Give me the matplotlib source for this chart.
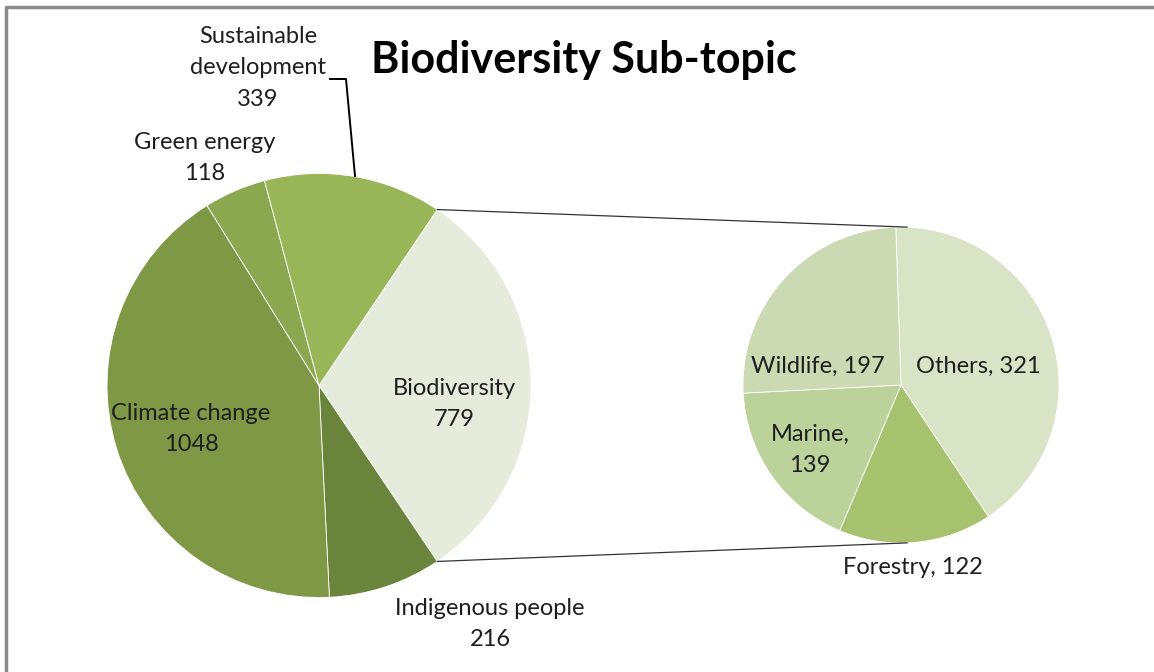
import numpy as np
import matplotlib.pyplot as plt

# Dane wykresu
glowne_nazwy = ["Biodiversity", "Indigenous people", "Climate change", "Green energy", "Sustainable\ndevelopment"]
glowne_wartosci = [779, 216, 1048, 118, 339]
glowne_kolory = ["#E5ECDC", "#6B843C", "#7F9846", "#8BA74F", "#98B658"]

pod_nazwy = ["Others", "Forestry", "Marine", "Wildlife"]
pod_wartosci = [321, 122, 139, 197]
pod_kolory = ["#D9E4C7", "#A6C26F", "#BBD29B", "#CBDAB2"]

W, H = 1154, 672
plt.rcParams['font.family'] = ['Lato', 'DejaVu Sans']

fig = plt.figure(figsize=(W / 100, H / 100), dpi=100)
ax = fig.add_axes([0, 0, 1, 1])

# Geometria (piksele, y od dołu)
c1 = (319, H - 385.5)
r1 = 212
c2 = (901, H - 385)
r2 = 158

suma = sum(glowne_wartosci)
kat_bio = glowne_wartosci[0] / suma * 360
start1 = kat_bio / 2

ax.pie(glowne_wartosci, colors=glowne_kolory, center=c1, radius=r1,
       startangle=start1, counterclock=False, frame=True,
       wedgeprops=dict(edgecolor='white', linewidth=0.6))

start2 = 91.9
ax.pie(pod_wartosci, colors=pod_kolory, center=c2, radius=r2,
       startangle=start2, counterclock=False, frame=True,
       wedgeprops=dict(edgecolor='white', linewidth=0.6))
ax.set_xlim(0, W)
ax.set_ylim(0, H)
ax.set_aspect('equal')
ax.axis('off')

# Linie łączące
for znak in (1, -1):
    a = np.radians(znak * start1)
    b = np.radians(znak * 87.8)
    x0, y0 = c1[0] + r1 * np.cos(a), c1[1] + r1 * np.sin(a)
    x1, y1 = c2[0] + r2 * np.cos(b), c2[1] + r2 * np.sin(b)
    ax.plot([x0, x1], [y0, y1], color='#333333', lw=0.9)

# Etykiety
kolor_txt = '#1e1e1e'
fs = 17
etykiety = [
    ("Sustainable\ndevelopment\n339", 258, 68),
    ("Green energy\n118", 205, 158),
    ("Climate change\n1048", 191, 429),
    ("Biodiversity\n779", 454, 404),
    ("Indigenous people\n216", 490, 624),
    ("Wildlife, 197", 818, 366),
    ("Others, 321", 978, 366),
    ("Marine,\n139", 810, 450),
    ("Forestry, 122", 913, 568),
]
for tekst, x, y in etykiety:
    ax.text(x, H - y, tekst, ha='center', va='center', fontsize=fs,
            color=kolor_txt, linespacing=1.6)

# Linia odniesienia dla "Sustainable development"
ax.plot([330, 346, 355], [H - 79, H - 79, H - 176], color='black', lw=1.4)

# Tytuł
ax.text(584, H - 60, "Biodiversity Sub-topic", ha='center', va='center',
        fontsize=31, fontweight='bold', color='black')

# Ramka
ax.plot([6, 6, W], [0, H - 7, H - 7], color='#8a8a8a', lw=2.5, solid_capstyle='butt')

fig.savefig('out.png', dpi=100)
